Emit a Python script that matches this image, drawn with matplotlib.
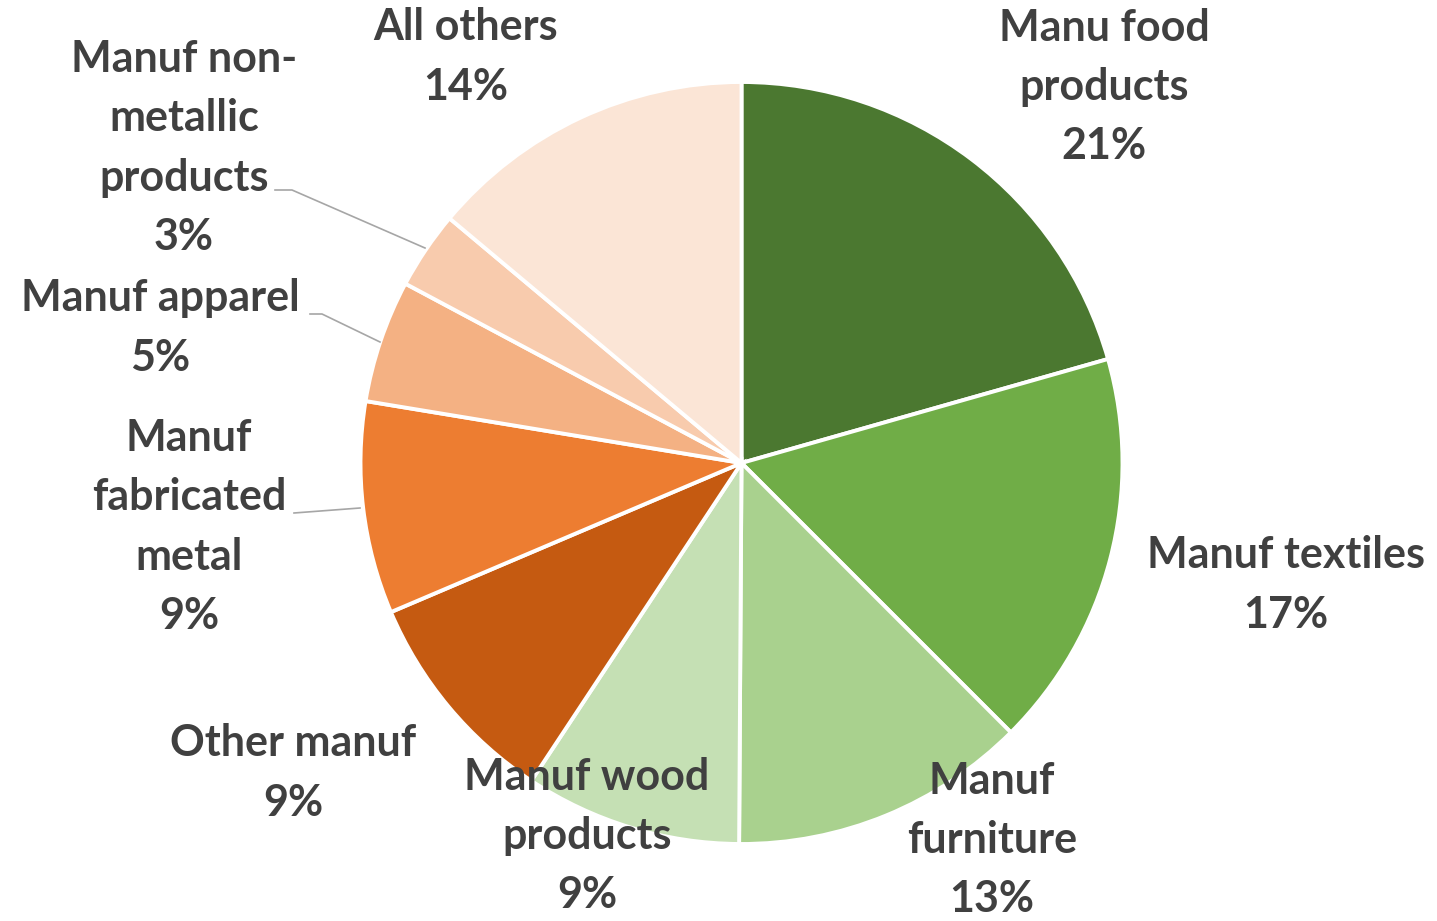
import matplotlib
matplotlib.use("Agg")
import matplotlib.pyplot as plt

# sector shares (%) , clockwise from 12 o'clock
sectors = ["Manu food\nproducts", "Manuf textiles", "Manuf\nfurniture",
           "Manuf wood\nproducts", "Other manuf", "Manuf\nfabricated\nmetal",
           "Manuf apparel", "Manuf non-\nmetallic\nproducts", "All others"]
shares = [20.6, 16.9, 12.6, 9.2, 9.3, 9.0, 5.2, 3.3, 13.9]
colors = ["#4B7830", "#70AD47", "#A9D18E", "#C5E0B4", "#C55A11",
          "#ED7D31", "#F4B183", "#F8CBAD", "#FBE5D6"]

# label centres in pixels (x right, y down)
label_pos = [(1104, 87), (1286, 585), (992, 840), (587, 836), (293, 773),
             (189, 527), (160, 328), (184, 148), (466, 57)]
# leader lines for the small slices (pixel coords)
leaders = {5: [(294, 513), (360, 508)],
           6: [(310, 314), (322, 314), (380, 342)],
           7: [(275, 190), (292, 190), (425, 248)]}

W, H = 1437, 921
fig = plt.figure(figsize=(W / 100, H / 100), dpi=100)
ax = fig.add_axes([0, 0, 1, 1])

ax.pie(shares, colors=colors, startangle=90, counterclock=False,
       center=(741.5, H - 463), radius=381,
       wedgeprops=dict(edgecolor="white", linewidth=2.8))
ax.set_xlim(0, W)
ax.set_ylim(0, H)
ax.set_aspect("equal")
ax.axis("off")

for i, (name, val) in enumerate(zip(sectors, shares)):
    x, y = label_pos[i]
    ax.text(x, H - y, f"{name}\n{val:.0f}%", ha="center", va="center",
            fontsize=31, fontweight="bold", family="Lato", color="#404040",
            linespacing=1.58)

for i, pts in leaders.items():
    xs = [p[0] for p in pts]
    ys = [H - p[1] for p in pts]
    ax.plot(xs, ys, color="#A6A6A6", lw=1.2)

fig.savefig("out.png", dpi=100)
